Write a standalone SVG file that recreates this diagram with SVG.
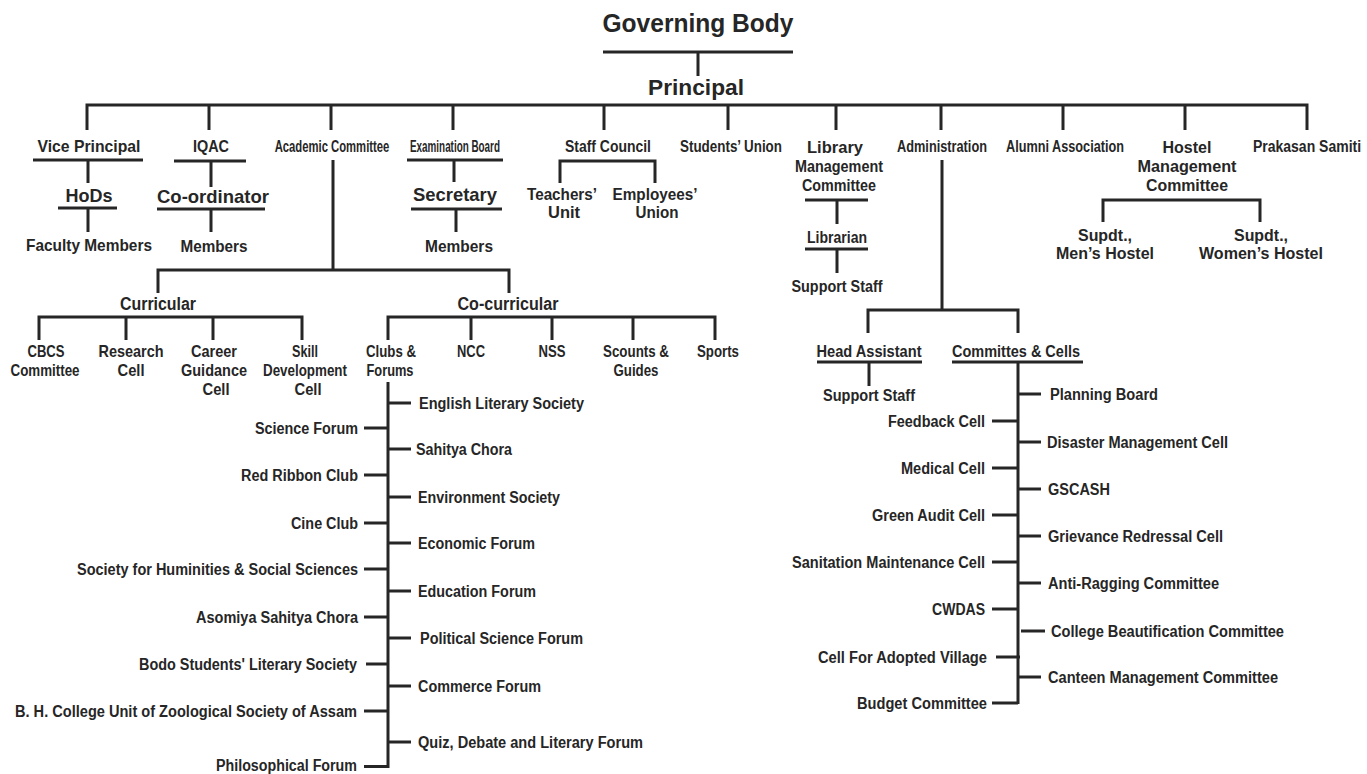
<svg xmlns="http://www.w3.org/2000/svg" width="1367" height="774" viewBox="0 0 1367 774">
<style>
.ln{stroke:#262626;stroke-width:3;fill:none;stroke-linecap:butt}
.t{font-family:"Liberation Sans",Arial,sans-serif;font-weight:bold;fill:#262626;font-size:17px}
.c{text-anchor:middle}
.e{text-anchor:end}
.s{font-size:16px}
</style>
<rect width="1367" height="774" fill="#ffffff"/>
<g id="connectors">
<path class="ln" d="M603 52H793M698 52V76"/>
<path class="ln" d="M87 130V105H1307V130M209 105V130M331 105V130M453 105V130M604 105V130M728 105V130M836 105V130M941 105V130M1063 105V130M1185 105V130"/>
<path class="ln" d="M33 160H143M88 160V183M58 208H117M88 208V232"/>
<path class="ln" d="M174 161H246M211 161V187M157 209H265M211 209V232"/>
<path class="ln" d="M333 160V270M158 293V270H509V293"/>
<path class="ln" d="M39 340V317H302V340M126 317V340M213 317V340"/>
<path class="ln" d="M388 340V317H715V340M471 317V340M552 317V340M633 317V340"/>
<path class="ln" d="M388 382V768"/>
<path class="ln" d="M388 403H411M388 449H411M388 497H411M388 543H411M388 591H411M388 638H411M388 686H411M388 742H411"/>
<path class="ln" d="M364 428H388M364 475H388M364 523H388M364 569H388M364 617H388M366 664H388M364 711H388M364 766.5H388"/>
<path class="ln" d="M407 160H503M454 160V182M411 209H502M456 209V232"/>
<path class="ln" d="M560 183V161H655V183"/>
<path class="ln" d="M805 200H868M837 200V224M805 249H868M837 249V273"/>
<path class="ln" d="M942 160V310M868 333V310H1018V333"/>
<path class="ln" d="M817 362H922M869 362V386"/>
<path class="ln" d="M952 362H1083M1018 362V704"/>
<path class="ln" d="M1018 394H1041M1018 442H1041M1018 489H1041M1018 536H1041M1018 583H1041M1021 631H1045M1018 677H1041"/>
<path class="ln" d="M992 421H1018M992 468H1018M992 515H1018M992 562H1018M992 609H1018M996 657H1020M992 703H1018"/>
<path class="ln" d="M1103 222V200H1260V222"/>
</g>
<g id="governing-body"><text class="t c" x="698" y="32" style="font-size:26px" textLength="191" lengthAdjust="spacingAndGlyphs">Governing Body</text></g>
<g id="principal"><text class="t c" x="696" y="95" style="font-size:22px" textLength="96" lengthAdjust="spacingAndGlyphs">Principal</text></g>
<g id="vice-principal"><text class="t c" x="89" y="152" textLength="103" lengthAdjust="spacingAndGlyphs">Vice Principal</text></g>
<g id="hods"><text class="t c" x="89" y="202" style="font-size:19px" textLength="47" lengthAdjust="spacingAndGlyphs">HoDs</text></g>
<g id="faculty-members"><text class="t c" x="89" y="251" textLength="126" lengthAdjust="spacingAndGlyphs">Faculty Members</text></g>
<g id="iqac"><text class="t c" x="211" y="152" textLength="36" lengthAdjust="spacingAndGlyphs">IQAC</text></g>
<g id="coordinator"><text class="t c" x="213" y="203" style="font-size:19px" textLength="112" lengthAdjust="spacingAndGlyphs">Co-ordinator</text></g>
<g id="iqac-members"><text class="t c" x="214" y="252" textLength="67" lengthAdjust="spacingAndGlyphs">Members</text></g>
<g id="academic-committee"><text class="t c" transform="translate(332 152) scale(0.664 1)" x="0" y="0">Academic Committee</text></g>
<g id="examination-board"><text class="t c" transform="translate(455 152) scale(0.581 1)" x="0" y="0">Examination Board</text></g>
<g id="secretary"><text class="t c" x="455" y="201" style="font-size:19px" textLength="84" lengthAdjust="spacingAndGlyphs">Secretary</text></g>
<g id="exam-members"><text class="t c" x="459" y="252" textLength="68" lengthAdjust="spacingAndGlyphs">Members</text></g>
<g id="staff-council"><text class="t c" x="608" y="152" textLength="86" lengthAdjust="spacingAndGlyphs">Staff Council</text></g>
<g id="teachers-unit"><text class="t c" x="562" y="200" textLength="70" lengthAdjust="spacingAndGlyphs">Teachers’</text><text class="t c" x="564" y="218" textLength="32" lengthAdjust="spacingAndGlyphs">Unit</text></g>
<g id="employees-union"><text class="t c" x="655" y="200" textLength="85" lengthAdjust="spacingAndGlyphs">Employees’</text><text class="t c" x="657" y="218" textLength="43" lengthAdjust="spacingAndGlyphs">Union</text></g>
<g id="students-union"><text class="t c" x="731" y="152" textLength="102" lengthAdjust="spacingAndGlyphs">Students’ Union</text></g>
<g id="library-committee"><text class="t c" x="835" y="153" textLength="56" lengthAdjust="spacingAndGlyphs">Library</text><text class="t c" x="839" y="172" textLength="88" lengthAdjust="spacingAndGlyphs">Management</text><text class="t c" x="839" y="191" textLength="74" lengthAdjust="spacingAndGlyphs">Committee</text></g>
<g id="librarian"><text class="t c" x="837" y="243" textLength="60" lengthAdjust="spacingAndGlyphs">Librarian</text></g>
<g id="library-support-staff"><text class="t c" x="837" y="292" textLength="91" lengthAdjust="spacingAndGlyphs">Support Staff</text></g>
<g id="administration"><text class="t c" x="942" y="152" textLength="90" lengthAdjust="spacingAndGlyphs">Administration</text></g>
<g id="alumni-association"><text class="t c" x="1065" y="152" textLength="118" lengthAdjust="spacingAndGlyphs">Alumni Association</text></g>
<g id="hostel-committee"><text class="t c" x="1187" y="153" textLength="49" lengthAdjust="spacingAndGlyphs">Hostel</text><text class="t c" x="1187" y="172" textLength="99" lengthAdjust="spacingAndGlyphs">Management</text><text class="t c" x="1187" y="191" textLength="82" lengthAdjust="spacingAndGlyphs">Committee</text></g>
<g id="prakasan-samiti"><text class="t c" transform="translate(1307 152) scale(0.824 1)" x="0" y="0">Prakasan Samiti</text></g>
<g id="supdt-men"><text class="t c" x="1105" y="241" textLength="54" lengthAdjust="spacingAndGlyphs">Supdt.,</text><text class="t c" x="1105" y="259" textLength="98" lengthAdjust="spacingAndGlyphs">Men’s Hostel</text></g>
<g id="supdt-women"><text class="t c" x="1261" y="241" textLength="54" lengthAdjust="spacingAndGlyphs">Supdt.,</text><text class="t c" x="1261" y="259" textLength="124" lengthAdjust="spacingAndGlyphs">Women’s Hostel</text></g>
<g id="curricular"><text class="t c" x="158" y="310" style="font-size:18px" textLength="76" lengthAdjust="spacingAndGlyphs">Curricular</text></g>
<g id="co-curricular"><text class="t c" x="508" y="310" style="font-size:18px" textLength="101" lengthAdjust="spacingAndGlyphs">Co-curricular</text></g>
<g id="cbcs"><text class="t c" x="46" y="357" textLength="37" lengthAdjust="spacingAndGlyphs">CBCS</text><text class="t c" x="45" y="376" textLength="69" lengthAdjust="spacingAndGlyphs">Committee</text></g>
<g id="research-cell"><text class="t c" x="131" y="357" textLength="65" lengthAdjust="spacingAndGlyphs">Research</text><text class="t c" x="131" y="376" textLength="27" lengthAdjust="spacingAndGlyphs">Cell</text></g>
<g id="career-guidance"><text class="t c" x="214" y="357" textLength="46" lengthAdjust="spacingAndGlyphs">Career</text><text class="t c" x="214" y="376" textLength="66" lengthAdjust="spacingAndGlyphs">Guidance</text><text class="t c" x="216" y="395" textLength="27" lengthAdjust="spacingAndGlyphs">Cell</text></g>
<g id="skill-development"><text class="t c" x="305" y="357" textLength="26" lengthAdjust="spacingAndGlyphs">Skill</text><text class="t c" x="305" y="376" textLength="84" lengthAdjust="spacingAndGlyphs">Development</text><text class="t c" x="308" y="395" textLength="27" lengthAdjust="spacingAndGlyphs">Cell</text></g>
<g id="clubs-forums"><text class="t c" x="391" y="357" textLength="50" lengthAdjust="spacingAndGlyphs">Clubs &amp;</text><text class="t c" x="390" y="376" textLength="47" lengthAdjust="spacingAndGlyphs">Forums</text></g>
<g id="ncc"><text class="t c" x="471" y="357" textLength="28" lengthAdjust="spacingAndGlyphs">NCC</text></g>
<g id="nss"><text class="t c" x="552" y="357" textLength="27" lengthAdjust="spacingAndGlyphs">NSS</text></g>
<g id="scouts-guides"><text class="t c" x="636" y="357" textLength="66" lengthAdjust="spacingAndGlyphs">Scounts &amp;</text><text class="t c" x="636" y="376" textLength="45" lengthAdjust="spacingAndGlyphs">Guides</text></g>
<g id="sports"><text class="t c" x="718" y="357" textLength="42" lengthAdjust="spacingAndGlyphs">Sports</text></g>
<g id="clubs-right">
<text class="t s" x="419" y="409" textLength="165" lengthAdjust="spacingAndGlyphs">English Literary Society</text>
<text class="t s" x="416" y="455" textLength="96" lengthAdjust="spacingAndGlyphs">Sahitya Chora</text>
<text class="t s" x="418" y="503" textLength="142" lengthAdjust="spacingAndGlyphs">Environment Society</text>
<text class="t s" x="418" y="549" textLength="117" lengthAdjust="spacingAndGlyphs">Economic Forum</text>
<text class="t s" x="418" y="597" textLength="118" lengthAdjust="spacingAndGlyphs">Education Forum</text>
<text class="t s" x="420" y="644" textLength="163" lengthAdjust="spacingAndGlyphs">Political Science Forum</text>
<text class="t s" x="418" y="692" textLength="123" lengthAdjust="spacingAndGlyphs">Commerce Forum</text>
<text class="t s" x="418" y="748" textLength="225" lengthAdjust="spacingAndGlyphs">Quiz, Debate and Literary Forum</text>
</g>
<g id="clubs-left">
<text class="t s e" x="358" y="434" textLength="103" lengthAdjust="spacingAndGlyphs">Science Forum</text>
<text class="t s e" x="358" y="481" textLength="117" lengthAdjust="spacingAndGlyphs">Red Ribbon Club</text>
<text class="t s e" x="358" y="529" textLength="67" lengthAdjust="spacingAndGlyphs">Cine Club</text>
<text class="t s e" x="358" y="575" textLength="281" lengthAdjust="spacingAndGlyphs">Society for Huminities &amp; Social Sciences</text>
<text class="t s e" x="358" y="623" textLength="162" lengthAdjust="spacingAndGlyphs">Asomiya Sahitya Chora</text>
<text class="t s e" x="357" y="670" textLength="218" lengthAdjust="spacingAndGlyphs">Bodo Students' Literary Society</text>
<text class="t s e" x="357" y="717" textLength="342" lengthAdjust="spacingAndGlyphs">B. H. College Unit of Zoological Society of Assam</text>
<text class="t s e" x="357" y="771" textLength="141" lengthAdjust="spacingAndGlyphs">Philosophical Forum</text>
</g>
<g id="head-assistant"><text class="t c" x="869" y="357" textLength="105" lengthAdjust="spacingAndGlyphs">Head Assistant</text></g>
<g id="admin-support-staff"><text class="t c" x="869" y="401" textLength="92" lengthAdjust="spacingAndGlyphs">Support Staff</text></g>
<g id="committees-cells"><text class="t c" x="1016" y="357" textLength="128" lengthAdjust="spacingAndGlyphs">Committes &amp; Cells</text></g>
<g id="cells-right">
<text class="t s" x="1050" y="400" textLength="108" lengthAdjust="spacingAndGlyphs">Planning Board</text>
<text class="t s" x="1047" y="448" textLength="181" lengthAdjust="spacingAndGlyphs">Disaster Management Cell</text>
<text class="t s" x="1048" y="495" textLength="62" lengthAdjust="spacingAndGlyphs">GSCASH</text>
<text class="t s" x="1048" y="542" textLength="175" lengthAdjust="spacingAndGlyphs">Grievance Redressal Cell</text>
<text class="t s" x="1048" y="589" textLength="171" lengthAdjust="spacingAndGlyphs">Anti-Ragging Committee</text>
<text class="t s" x="1051" y="637" textLength="233" lengthAdjust="spacingAndGlyphs">College Beautification Committee</text>
<text class="t s" x="1048" y="683" textLength="230" lengthAdjust="spacingAndGlyphs">Canteen Management Committee</text>
</g>
<g id="cells-left">
<text class="t s e" x="985" y="427" textLength="97" lengthAdjust="spacingAndGlyphs">Feedback Cell</text>
<text class="t s e" x="985" y="474" textLength="84" lengthAdjust="spacingAndGlyphs">Medical Cell</text>
<text class="t s e" x="985" y="521" textLength="113" lengthAdjust="spacingAndGlyphs">Green Audit Cell</text>
<text class="t s e" x="985" y="568" textLength="193" lengthAdjust="spacingAndGlyphs">Sanitation Maintenance Cell</text>
<text class="t s e" x="985" y="615" textLength="53" lengthAdjust="spacingAndGlyphs">CWDAS</text>
<text class="t s e" x="987" y="663" textLength="169" lengthAdjust="spacingAndGlyphs">Cell For Adopted Village</text>
<text class="t s e" x="987" y="709" textLength="130" lengthAdjust="spacingAndGlyphs">Budget Committee</text>
</g>
</svg>
